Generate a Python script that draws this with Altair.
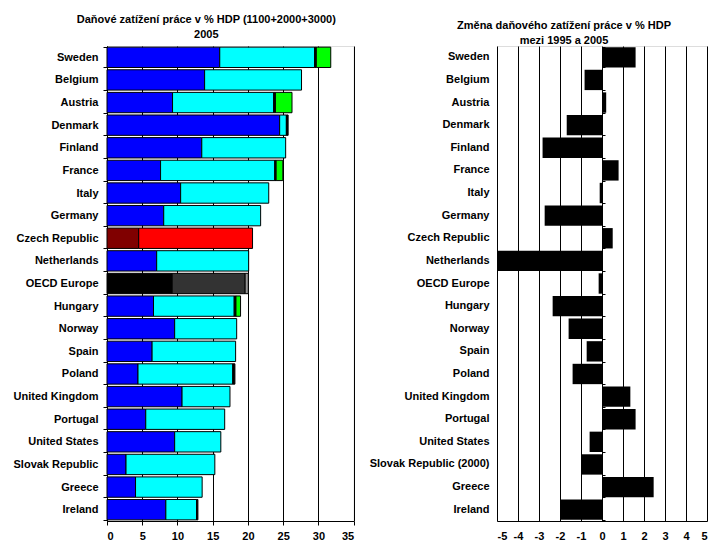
import altair as alt
import pandas as pd

FONT = "Liberation Sans"

countries = ["Sweden", "Belgium", "Austria", "Denmark", "Finland", "France", "Italy",
             "Germany", "Czech Republic", "Netherlands", "OECD Europe", "Hungary",
             "Norway", "Spain", "Poland", "United Kingdom", "Portugal", "United States",
             "Slovak Republic", "Greece", "Ireland"]
# tax on labour 2005, % of GDP, by component
tax_1100 = [16.0, 13.85, 9.3, 24.5, 13.45, 7.6, 10.45, 8.05, 4.5, 7.05, 9.25, 6.6,
            9.6, 6.4, 4.4, 10.65, 5.5, 9.6, 2.7, 4.05, 8.35]
tax_2000 = [13.45, 13.75, 14.35, 0.95, 11.9, 16.2, 12.5, 13.75, 16.15, 13.05, 10.35, 11.45,
            8.8, 11.85, 13.45, 6.8, 11.2, 6.55, 12.6, 9.45, 4.35]
tax_other = [0.25, 0.0, 0.25, 0.25, 0.0, 0.2, 0.0, 0.0, 0.0, 0.0, 0.45, 0.25,
             0.0, 0.0, 0.3, 0.0, 0.0, 0.0, 0.0, 0.0, 0.2]
tax_3000 = [2.05, 0.0, 2.35, 0.0, 0.0, 0.95, 0.0, 0.0, 0.0, 0.0, 0.0, 0.65,
            0.0, 0.0, 0.0, 0.0, 0.0, 0.0, 0.0, 0.0, 0.0]

change_labels = ["Sweden", "Belgium", "Austria", "Denmark", "Finland", "France", "Italy",
                 "Germany", "Czech Republic", "Netherlands", "OECD Europe", "Hungary",
                 "Norway", "Spain", "Poland", "United Kingdom", "Portugal", "United States",
                 "Slovak Republic (2000)", "Greece", "Ireland"]
change_values = [1.6, -0.83, 0.2, -1.68, -2.83, 0.79, -0.11, -2.73, 0.51, -5.0, -0.16, -2.35,
                 -1.59, -0.73, -1.4, 1.35, 1.6, -0.59, -1.0, 2.46, -2.0]

default_colors = ["#0000FF", "#00FFFF", "#000000", "#00FF00"]
special_colors = {
    "Czech Republic": ["#800000", "#FF0000", "#000000", "#00FF00"],
    "OECD Europe": ["#000000", "#333333", "#969696", "#00FF00"],
}

rows = []
for i, c in enumerate(countries):
    pal = special_colors.get(c, default_colors)
    for k, series in enumerate([tax_1100, tax_2000, tax_other, tax_3000]):
        if series[i] > 0:
            rows.append({"country": c, "seg": k, "value": series[i], "color": pal[k]})
left_df = pd.DataFrame(rows)
right_df = pd.DataFrame({"country": change_labels, "change": change_values})

lab = dict(labelFont=FONT, labelFontWeight="bold", labelFontSize=11, labelColor="black")

left = alt.Chart(left_df).mark_bar(stroke="black", strokeWidth=1).encode(
    y=alt.Y("country:N", sort=countries, title=None,
            scale=alt.Scale(paddingInner=0.1, paddingOuter=0.05),
            axis=alt.Axis(tickBand="extent", tickSize=4, tickColor="black", domainColor="black",
                          labelPadding=5, minExtent=94, maxExtent=94, grid=False, **lab)),
    x=alt.X("value:Q", stack="zero", title=None,
            scale=alt.Scale(domain=[0, 35], nice=False),
            axis=alt.Axis(values=list(range(0, 36, 5)), grid=True, gridColor="black", gridOpacity=1,
                          gridWidth=1, tickSize=4, tickColor="black", domainColor="black",
                          labelPadding=5, **lab)),
    fill=alt.Fill("color:N", scale=None),
    order=alt.Order("seg:Q"),
).properties(
    width=246.67, height=475,
    title=alt.TitleParams(["Daňové zatížení práce v % HDP (1100+2000+3000)", "2005"],
                          font=FONT, fontSize=11, fontWeight="bold", color="black",
                          anchor="middle", frame="group", dx=-24, offset=0, lineHeight=15),
)

right_bars = alt.Chart(right_df).mark_bar(color="black").encode(
    y=alt.Y("country:N", sort=change_labels, title=None,
            scale=alt.Scale(paddingInner=0.1, paddingOuter=0.05),
            axis=alt.Axis(ticks=False, domain=False, labelPadding=8, grid=False,
                          minExtent=129, maxExtent=129, **lab)),
    x=alt.X("change:Q", title=None, scale=alt.Scale(domain=[-5, 5], nice=False),
            axis=alt.Axis(values=list(range(-5, 6)), grid=True, gridColor="black", gridOpacity=1,
                          gridWidth=1, ticks=False, domainColor="black", labelPadding=9,
                          labelExpr="'' + datum.value", **lab)),
)
right_ticks = alt.Chart(right_df).mark_bar(opacity=0).encode(
    y=alt.Y("country:N", sort=change_labels, title=None,
            axis=alt.Axis(orient="right", offset=-105, labels=False, domain=False, grid=False,
                          tickBand="extent", tickSize=3, tickColor="black")),
    x=alt.value(0), x2=alt.value(0),
)
right = alt.layer(right_bars, right_ticks).resolve_axis(y="independent").properties(
    width=210, height=475,
    title=alt.TitleParams(["Změna daňového zatížení práce v % HDP", "mezi 1995 a 2005"],
                          font=FONT, fontSize=11, fontWeight="bold", color="black",
                          anchor="middle", frame="group", dx=-38, offset=0, lineHeight=15),
)

chart = alt.hconcat(left, right, spacing=12).properties(
    padding={"left": 4, "top": 5, "right": 5, "bottom": 5}
).configure_view(stroke="black", strokeWidth=1).configure(background="white")

chart.save("out.html", embed_options={"renderer": "svg", "actions": False})
